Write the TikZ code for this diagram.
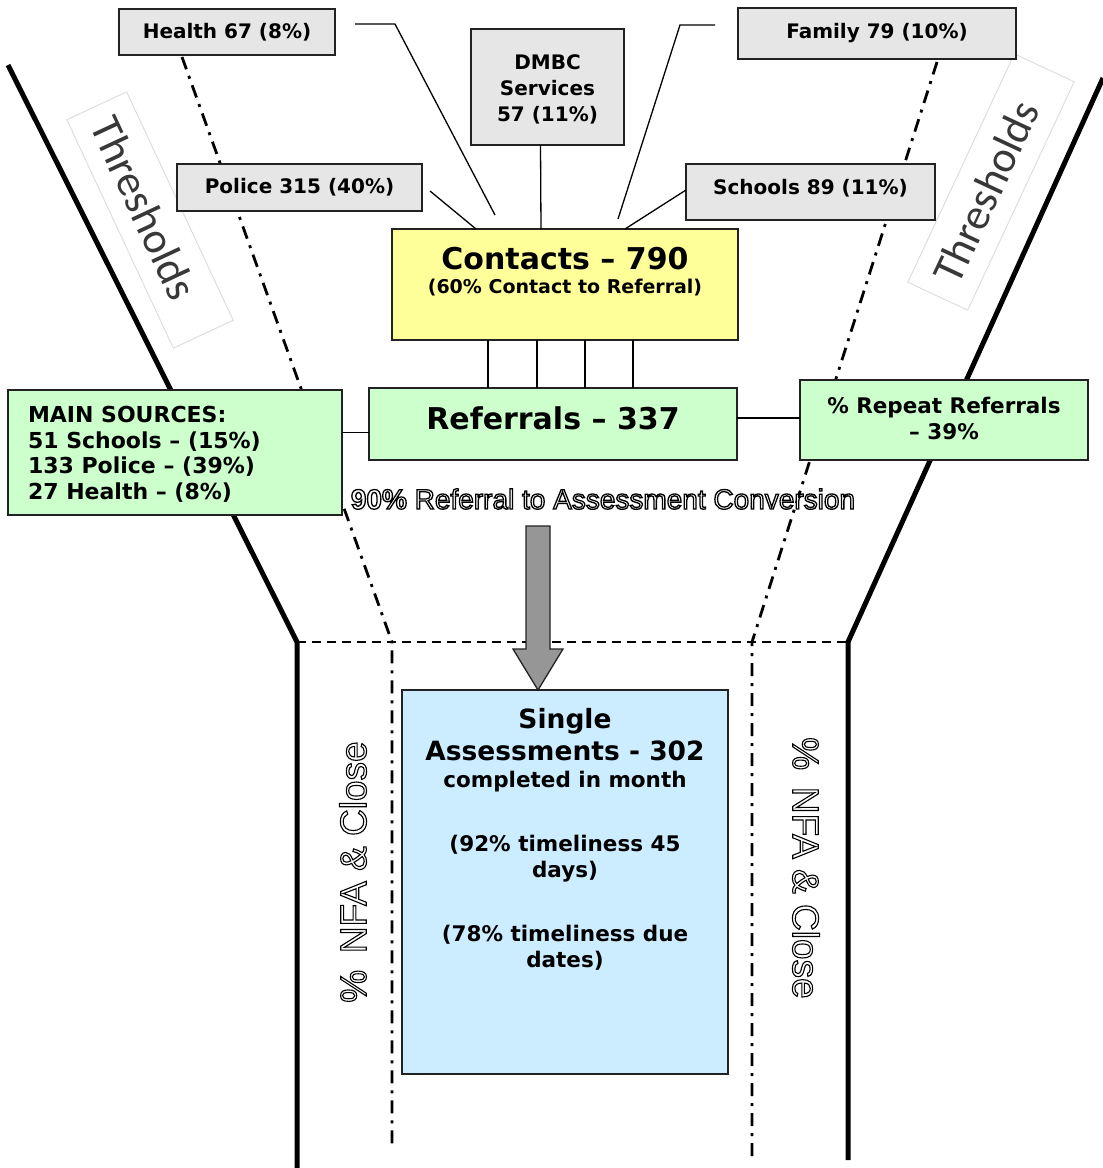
\documentclass[tikz,border=0pt]{standalone}
\usepackage{fontspec}
\setmainfont{DejaVu Sans}
\newfontfamily\arialf{Liberation Sans}
\newfontfamily\calf{Carlito}
\usetikzlibrary{calc}

\definecolor{srcgray}{HTML}{E6E6E6}
\definecolor{contyel}{HTML}{FFFF99}
\definecolor{refgreen}{HTML}{CCFFCC}
\definecolor{sablue}{HTML}{CCECFF}
\definecolor{arrgray}{HTML}{969696}
\definecolor{boxline}{HTML}{222222}

\newcommand{\fsz}[2]{\fontsize{#1}{#2}\selectfont}
% outlined text via PDF text render mode (fill white, stroke black)
\newcommand{\otext}[2][1.1]{{\leavevmode\color{white}%
 \special{pdf:literal direct 2 Tr 0 0 0 RG #1 w}#2\special{pdf:literal direct 0 Tr}}}

\tikzset{
  every node/.style={inner sep=0pt, outer sep=0pt},
  srcbox/.style={draw=boxline, line width=1.6pt, fill=srcgray, anchor=north west, align=center, font=\bfseries\fsz{20}{26}},
  bigbox/.style={draw=boxline, line width=1.6pt, anchor=north west},
  conn/.style={line width=1.3pt, draw=black},
  funnel/.style={line width=5pt, draw=black, line join=miter},
  ddot/.style={line width=2.8pt, draw=black, dash pattern=on 13pt off 7pt on 3pt off 7pt},
  dashln/.style={line width=1.3pt, draw=black, dash pattern=on 9pt off 6pt},
  thrbox/.style={draw=black!13, line width=1pt, minimum width=252pt, minimum height=66pt},
  thrtxt/.style={font=\calf\fsz{44}{50}, text=black!78},
  arrowsty/.style={draw=boxline, line width=1.3pt, fill=arrgray, line join=miter},
  satxt/.style={font=\bfseries\fsz{21.5}{26}, anchor=base},
  satitle/.style={font=\bfseries\fsz{26.5}{32}, anchor=base},
}

\begin{document}
\begin{tikzpicture}[x=1pt,y=-1pt]
\useasboundingbox (0,0) rectangle (1103,1168);

% funnel walls
\draw[funnel] (8,65) -- (297,642) -- (297,1168);
\draw[funnel] (1103,78) -- (848,642) -- (848,1160);
% inner dash-dot lines
\draw[ddot] (182,57) -- (392,642) -- (392,1145);
\draw[ddot] (937,62) -- (752,642) -- (752,1160);
% horizontal dashed line
\draw[dashln] (297,642) -- (848,642);

% thresholds labels
\node[thrbox, rotate=-65] (thrL) at (150,220) {};
\node[thrtxt, rotate=-65] (thrLt) at (144,208) {Thresholds};
\node[thrbox, rotate=65] (thrR) at (991,182) {};
\node[thrtxt, rotate=65] (thrRt) at (986,192) {Thresholds};

% boxes
\node[srcbox, minimum width=216pt, minimum height=46pt] (health) at (119,9) {Health 67 (8\%)};
\node[srcbox, minimum width=245pt, minimum height=47pt] (police) at (177,164) {Police 315 (40\%)};
\node[srcbox, minimum width=153pt, minimum height=116pt] (dmbc) at (471,29) {};
\node[srcbox, minimum width=278pt, minimum height=51pt] (family) at (738,8) {Family 79 (10\%)};
\node[srcbox, minimum width=249pt, minimum height=56pt] (schools) at (686,164) {};
\node[bigbox, fill=contyel, minimum width=346pt, minimum height=111pt] (contacts) at (392,229) {};
\node[bigbox, fill=refgreen, minimum width=368pt, minimum height=72pt] (referrals) at (369,388) {};
\node[bigbox, fill=refgreen, minimum width=334pt, minimum height=125pt] (main) at (8,390) {};
\node[bigbox, fill=refgreen, minimum width=288pt, minimum height=80pt] (repeat) at (800,380) {};
\node[bigbox, fill=sablue, minimum width=326pt, minimum height=384pt] (single) at (402,690) {};

% connectors
\coordinate (hA) at (355,24); \coordinate (hB) at (395,24); \coordinate (hC) at (495,215);
\draw[conn] (hA) -- (hB) -- (hC);
\coordinate (fA) at (715,25); \coordinate (fB) at (680,25); \coordinate (fC) at (618,219);
\draw[conn] (fA) -- (fB) -- (fC);
\coordinate (pA) at (430,191);
\draw[conn] (pA) -- ($(contacts.north west)+(84,0)$);
\draw[conn] ($(dmbc.south)+(-7,0)$) -- ($(contacts.north west)+(149,0)$);
\draw[conn] ($(schools.west)+(0,-2)$) -- ($(contacts.north west)+(233,0)$);
\foreach \dx [count=\i] in {96,145,193,241}{
  \coordinate (cv\i) at ($(contacts.south west)+(\dx,0)$);
  \draw[conn] (cv\i) -- (cv\i |- referrals.north);
}
\coordinate (mA) at ($(main.east)+(0,-20)$);
\draw[conn] (mA) -- (mA -| referrals.west);
\coordinate (rA) at ($(referrals.east)+(0,-6)$);
\draw[conn] (rA) -- (rA -| repeat.west);

% block arrow
\draw[arrowsty] (526,526) -- (550,526) -- (550,649) -- (563,649) -- (538,690) -- (513,649) -- (526,649) -- cycle;

% texts
\node[font=\bfseries\fsz{20}{26}] (scht) at (810.5,188) {Schools 89 (11\%)};
\node[font=\bfseries\fsz{20}{26}, align=center, anchor=north] (dmbct) at (547.5,55) {DMBC\\Services\\57 (11\%)};
\node[font=\bfseries\fsz{30}{36}, anchor=base] (ct1) at (565,269) {Contacts – 790};
\node[font=\bfseries\fsz{19}{23}, anchor=base] (ct2) at (565,293) {(60\% Contact to Referral)};
\node[font=\bfseries\fsz{30}{36}, anchor=base] (rf1) at (553,429) {Referrals – 337};
\node[font=\bfseries\fsz{22}{25.7}, align=left, anchor=north west] (ms) at (28,406)
  {MAIN SOURCES:\\51 Schools – (15\%)\\133 Police – (39\%)\\27 Health – (8\%)};
\node[font=\bfseries\fsz{21.5}{26}, align=center, anchor=north] (rp) at (944,397) {\% Repeat Referrals\\– 39\%};

\node[font=\arialf\fsz{28}{32}] (conv) at (603,499) {\otext[1.3]{\bfseries 90\%} \otext[1.3]{Referral to Assessment Conversion}};

\node[font=\arialf\fsz{37}{40}, rotate=90] (nfaL) at (353,872) {\otext{\%\hspace{0.45em}NFA \& Close}};
\node[font=\arialf\fsz{37}{40}, rotate=-90] (nfaR) at (806,868) {\otext{\%\hspace{0.45em}NFA \& Close}};

\node[satitle] (sa1) at (565,728) {Single};
\node[satitle] (sa2) at (565,760) {Assessments - 302};
\node[satxt] (sa3) at (565,787) {completed in month};
\node[satxt] (sa4) at (565,851) {(92\% timeliness 45};
\node[satxt] (sa5) at (565,877) {days)};
\node[satxt] (sa6) at (565,941) {(78\% timeliness due};
\node[satxt] (sa7) at (565,967) {dates)};
\end{tikzpicture}
\end{document}
